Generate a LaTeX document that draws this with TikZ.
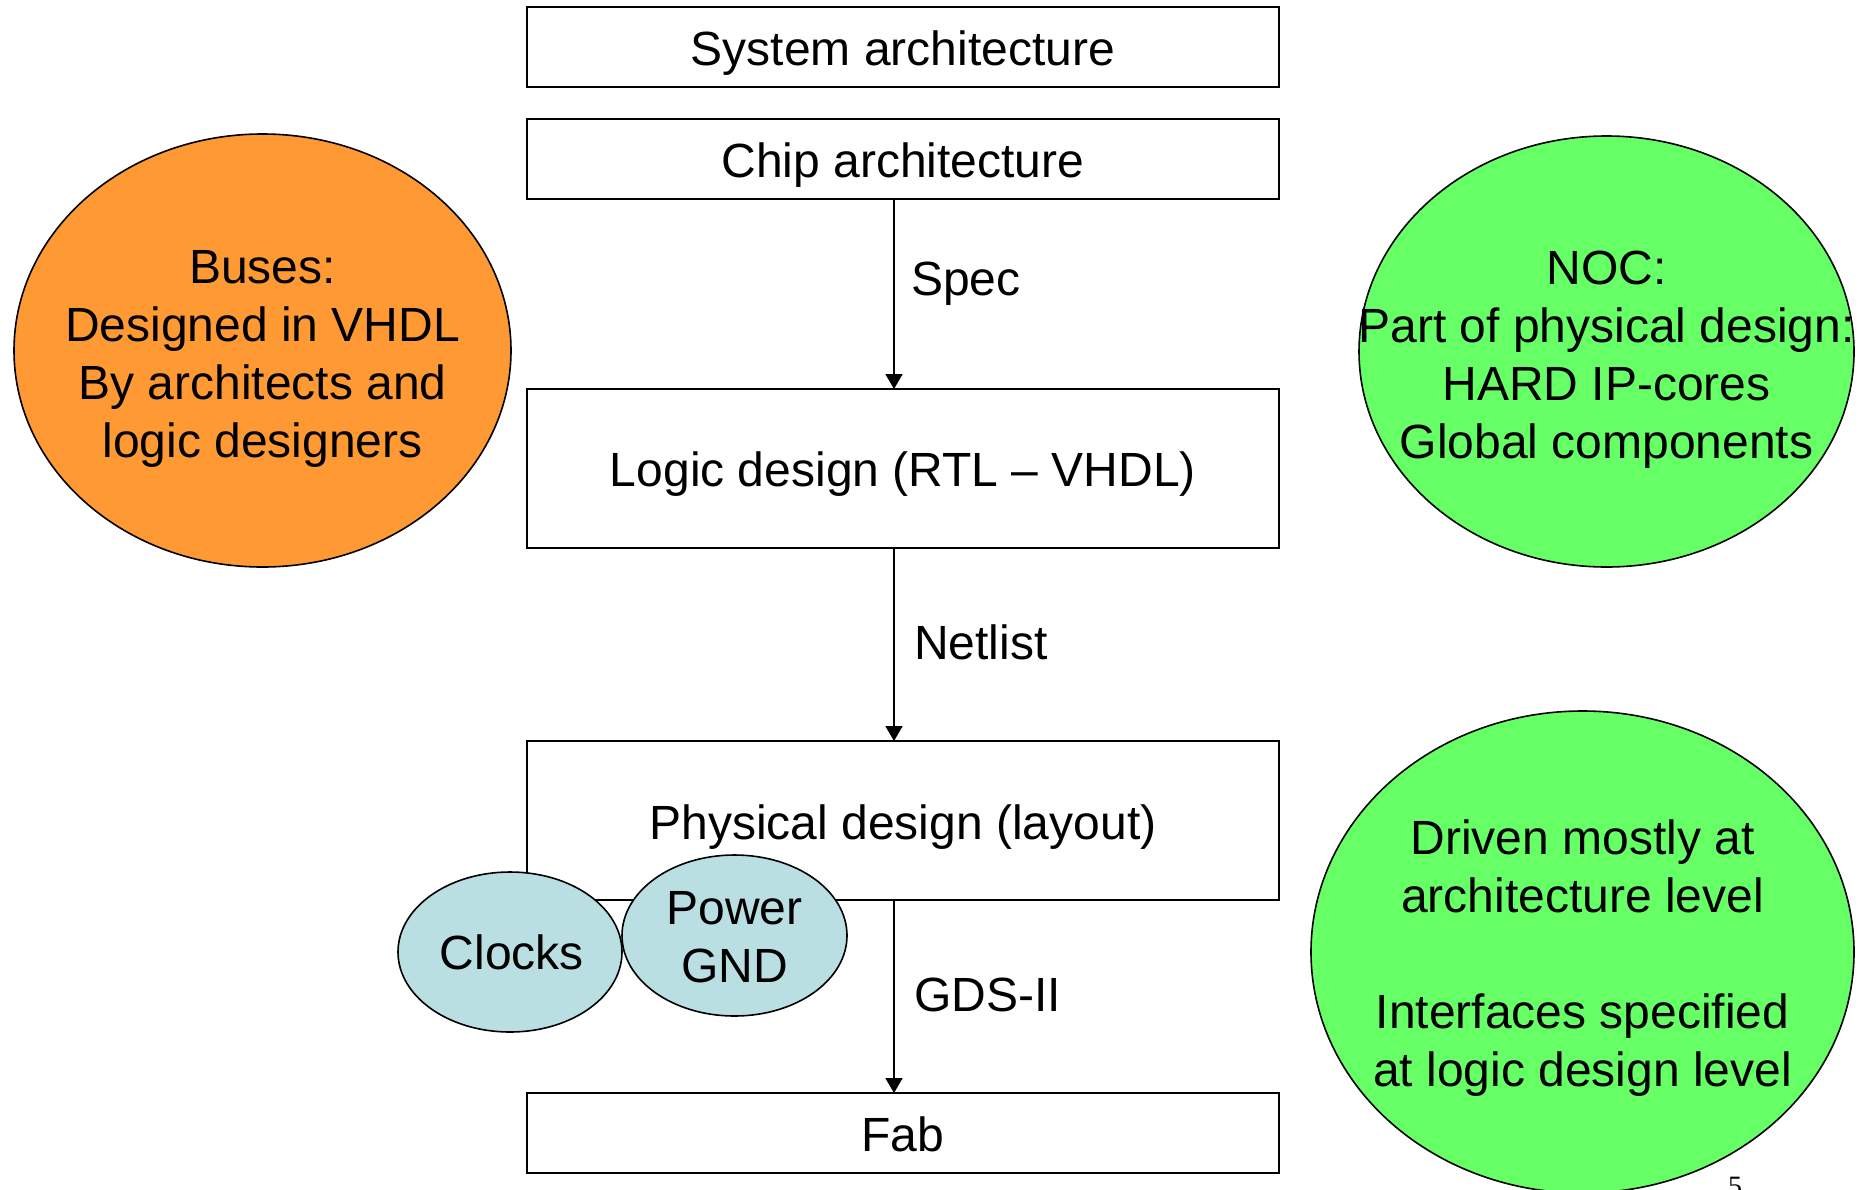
\documentclass[tikz,border=0pt]{standalone}
\usepackage{fontspec}
\setmainfont{Liberation Sans}
\newfontfamily\pagefont{Liberation Serif}
\usetikzlibrary{shapes.geometric,arrows.meta}
\definecolor{busorange}{RGB}{255,153,51}
\definecolor{nocgreen}{RGB}{102,255,102}
\definecolor{clkblue}{RGB}{185,223,227}
\tikzset{
  flowbox/.style={draw=black, line width=2pt, rectangle, inner sep=0pt, minimum width=752pt},
  boxtext/.style={inner sep=0pt, font=\fontsize{48}{58}\selectfont},
  blob/.style={draw=black, line width=1.6pt, ellipse, inner sep=0pt},
  blobtext/.style={align=center, font=\fontsize{48}{58}\selectfont, inner sep=0pt},
  flowarrow/.style={draw=black, line width=2pt, -{Triangle[length=15pt,width=17pt]}},
  edgelabel/.style={anchor=west, inner sep=0pt, font=\fontsize{48}{58}\selectfont}
}
\begin{document}
\begin{tikzpicture}[x=1pt,y=-1pt]
\useasboundingbox (0,0) rectangle (1865,1189);
% boxes
\node[flowbox, minimum height=80pt] (sys) at (903,47) {};
\node[boxtext, yshift=-6pt] (syst) at (sys) {System architecture};
\node[flowbox, minimum height=80pt] (chip) at (903,159) {};
\node[boxtext, yshift=-6pt] (chipt) at (chip) {Chip architecture};
\node[flowbox, minimum height=159pt] (logic) at (903,468.5) {};
\node[boxtext, yshift=-6pt] (logict) at (logic) {Logic design (RTL -- VHDL)};
\node[flowbox, minimum height=159pt] (phys) at (903,820.5) {};
\node[boxtext, yshift=-7pt] (physt) at (phys) {Physical design (layout)};
\node[flowbox, minimum height=80pt] (fab) at (903,1133) {};
\node[boxtext, yshift=-1pt] (fabt) at (fab) {Fab};
% arrows
\coordinate (a1) at (894,199);
\coordinate (a2) at (894,389);
\coordinate (a3) at (894,548);
\coordinate (a4) at (894,741);
\coordinate (a5) at (894,900);
\coordinate (a6) at (894,1093);
\draw[flowarrow] (a1) -- (a2);
\draw[flowarrow] (a3) -- (a4);
\draw[flowarrow] (a5) -- (a6);
\node[edgelabel] (spec) at (911,284) {Spec};
\node[edgelabel] (net) at (914,642) {Netlist};
\node[edgelabel] (gds) at (914,995) {GDS-II};
% clocks and power
\node[blob, fill=clkblue, minimum width=224pt, minimum height=160pt] (clk) at (510,952) {};
\node[blobtext, xshift=2pt] (clkt) at (clk) {Clocks};
\node[blob, fill=clkblue, minimum width=225pt, minimum height=161pt] (pwr) at (734.5,935.5) {};
\node[blobtext, yshift=-2pt] (pwrt) at (pwr) {Power\\GND};
% side ellipses
\node[blob, fill=busorange, minimum width=497pt, minimum height=433pt] (bus) at (262.5,350.5) {};
\node[blobtext, yshift=-8pt] (bust) at (bus) {Buses:\\Designed in VHDL\\By architects and\\logic designers};
\node[blob, fill=nocgreen, minimum width=495pt, minimum height=431pt] (noc) at (1606.5,351.5) {};
\node[blobtext, yshift=-8pt] (noct) at (noc) {NOC:\\Part of physical design:\\HARD IP-cores\\Global components};
\node[blob, fill=nocgreen, minimum width=543pt, minimum height=482pt] (drv) at (1582.5,952) {};
\node[blobtext, yshift=-6pt] (drvt) at (drv) {Driven mostly at\\architecture level\\[58pt]Interfaces specified\\at logic design level};
% page number
\node[anchor=north, inner sep=0pt, font=\pagefont\fontsize{28}{30}\selectfont] (pg) at (1735,1177) {5};
\end{tikzpicture}
\end{document}
